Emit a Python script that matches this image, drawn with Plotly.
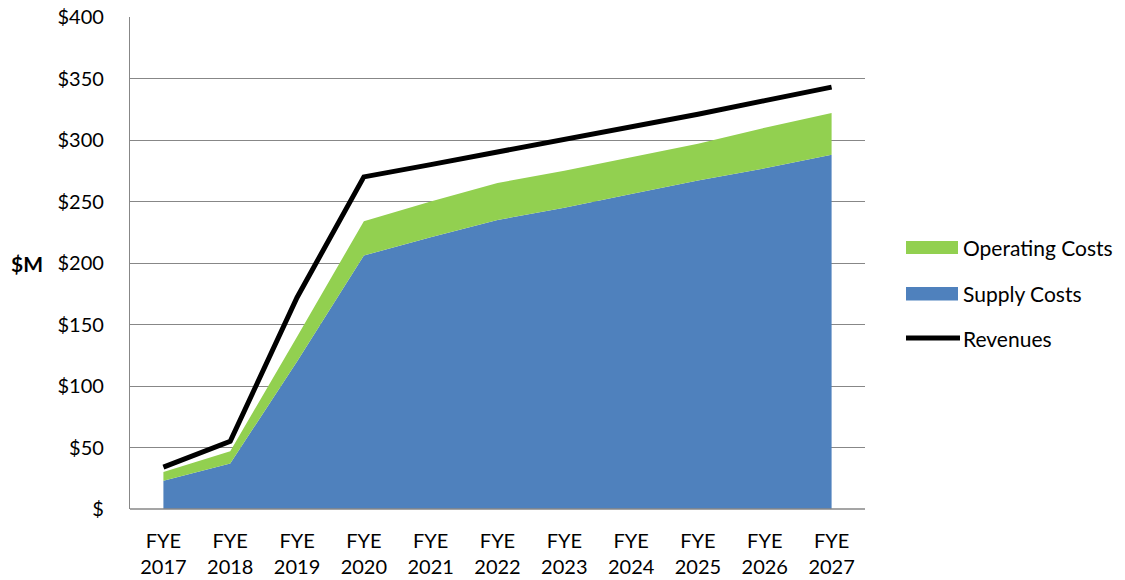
import plotly.graph_objects as go

years = ["2017", "2018", "2019", "2020", "2021", "2022", "2023", "2024", "2025", "2026", "2027"]
categories = [f"FYE<br>{y}" for y in years]
supply_costs = [23, 37, 120, 206, 221, 235, 245, 256, 267, 277, 288]
operating_costs = [7, 10, 20, 28, 29, 30, 30, 30, 30, 33, 34]
revenues = [34, 55, 172, 270, 280, 290, 300, 310, 321, 332, 343]
y_ticks = [0, 50, 100, 150, 200, 250, 300, 350, 400]
y_tick_labels = ["$", "$50", "$100", "$150", "$200", "$250", "$300", "$350", "$400"]

BLUE = "#4F81BD"
GREEN = "#92D050"
GRID = "#878787"
FONT = "Lato"

fig = go.Figure()
fig.add_trace(go.Scatter(x=categories, y=supply_costs, name="Supply Costs", stackgroup="one",
                         mode="none", fillcolor=BLUE, showlegend=False))
fig.add_trace(go.Scatter(x=categories, y=operating_costs, name="Operating Costs", stackgroup="one",
                         mode="none", fillcolor=GREEN, showlegend=False))
fig.add_trace(go.Scatter(x=categories, y=revenues, name="Revenues", mode="lines",
                         line=dict(color="black", width=5), showlegend=False))

fig.update_layout(
    width=1125, height=580,
    margin=dict(l=130, r=260, t=17, b=71),
    paper_bgcolor="white", plot_bgcolor="white",
    font=dict(family=FONT, size=20, color="black"),
    xaxis=dict(type="category", range=[-0.5, 10.5], showgrid=False, zeroline=False,
               showline=False, ticks="", tickfont=dict(size=20), automargin=False,
               ticklabelstandoff=18),
    yaxis=dict(range=[0, 400], tickvals=y_ticks, ticktext=y_tick_labels,
               showgrid=True, gridcolor=GRID, gridwidth=1.3, zeroline=False,
               showline=True, linecolor=GRID, linewidth=1.3, ticks="", automargin=False,
               ticklabelstandoff=21, tickfont=dict(size=20)),
)

# bottom axis line
fig.add_shape(type="line", xref="paper", yref="paper", x0=0, x1=1, y0=0, y1=0,
              line=dict(color=GRID, width=1.5))

# y-axis title
fig.add_annotation(text="<b>$M</b>", xref="paper", yref="y", x=(9 - 130) / 735, y=200,
                   xanchor="left", showarrow=False, font=dict(size=21, family=FONT))

# manual legend
lx0 = (906 - 130) / 735
lx1 = (958 - 130) / 735
tx = (961 - 130) / 735
fig.add_shape(type="rect", xref="paper", yref="paper", x0=lx0, x1=lx1,
              y0=(509 - 254) / 492, y1=(509 - 241) / 492, fillcolor=GREEN, line=dict(width=0))
fig.add_shape(type="rect", xref="paper", yref="paper", x0=lx0, x1=lx1,
              y0=(509 - 300.5) / 492, y1=(509 - 287) / 492, fillcolor=BLUE, line=dict(width=0))
fig.add_shape(type="line", xref="paper", yref="paper", x0=lx0, x1=(960 - 130) / 735,
              y0=(509 - 338) / 492, y1=(509 - 338) / 492, line=dict(color="black", width=5))
for label, py in [("Operating Costs", 247.5), ("Supply Costs", 293), ("Revenues", 338)]:
    fig.add_annotation(text=label, xref="paper", yref="paper", x=tx, y=(509 - py) / 492,
                       xanchor="left", yanchor="middle", showarrow=False,
                       font=dict(size=21, family=FONT))

fig.write_html("out.html")
